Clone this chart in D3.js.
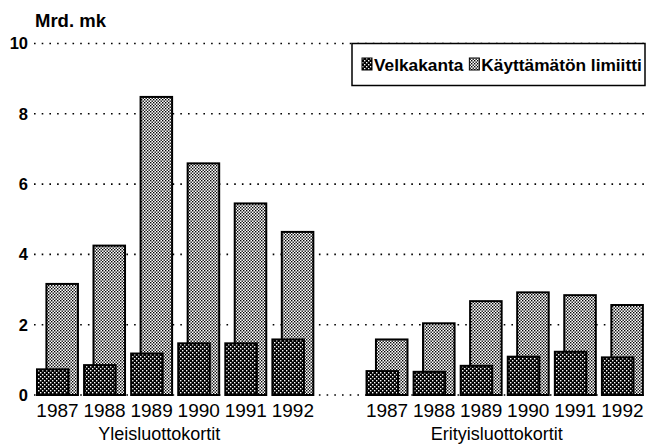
<!DOCTYPE html>
<html>
<head>
<meta charset="utf-8">
<script src="https://cdn.jsdelivr.net/npm/d3@7"></script>
<style>
  body { margin: 0; background: #fff; }
  text { font-family: "Liberation Sans", Arial, sans-serif; fill: #000; }
</style>
</head>
<body>
<div id="chart"></div>
<script>
// Luottokorttien velkakanta ja käyttämätön limiitti, Mrd. mk //
const width = 646;
const height = 444;

const years = ["1987", "1988", "1989", "1990", "1991", "1992"];
const groups = ["Yleisluottokortit", "Erityisluottokortit"];
const seriesNames = ["Velkakanta", "Käyttämätön limiitti"];
const yTicks = [0, 2, 4, 6, 8, 10];

// velkakanta (debt) per group
const debtYleis = [0.73, 0.85, 1.18, 1.47, 1.47, 1.58];
const debtErity = [0.68, 0.66, 0.83, 1.09, 1.23, 1.07];
// käyttämätön limiitti (unused limit) per group
const limitYleis = [3.16, 4.25, 8.48, 6.59, 5.45, 4.64];
const limitErity = [1.58, 2.04, 2.67, 2.92, 2.84, 2.56];

const rows = [];
years.forEach((y, i) => rows.push({ group: 0, year: y, key: "a" + y, debt: debtYleis[i], limit: limitYleis[i] }));
years.forEach((y, i) => rows.push({ group: 1, year: y, key: "b" + y, debt: debtErity[i], limit: limitErity[i] }));

// 13 slots: 6 years, one empty slot, 6 years
const slotKeys = years.map(y => "a" + y).concat(["gap"], years.map(y => "b" + y));

const svg = d3.select("#chart")
  .append("svg")
  .attr("width", width)
  .attr("height", height);

const x = d3.scaleBand()
  .domain(slotKeys)
  .range([37, 649])
  .padding(0);

const y = d3.scaleLinear()
  .domain([0, 10])
  .range([395, 43.5]);

const step = x.step();
const barW = step * 0.67;
const barOff = step * 0.2;

// patterns
const defs = svg.append("defs");
const darkPat = defs.append("pattern")
  .attr("id", "darkPat")
  .attr("patternUnits", "userSpaceOnUse")
  .attr("width", 4).attr("height", 4);
darkPat.append("rect").attr("width", 4).attr("height", 4).attr("fill", "#000");
darkPat.append("rect").attr("x", 0).attr("y", 0).attr("width", 1.4).attr("height", 1.4).attr("fill", "#fff");
darkPat.append("rect").attr("x", 2).attr("y", 2).attr("width", 1.4).attr("height", 1.4).attr("fill", "#fff");

const lightPat = defs.append("pattern")
  .attr("id", "lightPat")
  .attr("patternUnits", "userSpaceOnUse")
  .attr("width", 3).attr("height", 3);
lightPat.append("rect").attr("width", 3).attr("height", 3).attr("fill", "#fff");
lightPat.append("rect").attr("x", 0).attr("y", 0).attr("width", 1.4).attr("height", 1.4).attr("fill", "#000");
lightPat.append("rect").attr("x", 1.5).attr("y", 1.5).attr("width", 1.4).attr("height", 1.4).attr("fill", "#000");

// dotted gridlines
svg.append("g")
  .selectAll("line")
  .data(yTicks)
  .join("line")
  .attr("x1", 34)
  .attr("x2", width)
  .attr("y1", d => y(d))
  .attr("y2", d => y(d))
  .attr("stroke", "#000")
  .attr("stroke-width", 1.6)
  .attr("stroke-dasharray", "1.6,6.1");

// y tick labels
svg.append("g")
  .selectAll("text")
  .data(yTicks)
  .join("text")
  .attr("x", 28)
  .attr("y", d => y(d))
  .attr("dy", "0.36em")
  .attr("text-anchor", "end")
  .style("font-size", "16.5px")
  .style("font-weight", "bold")
  .text(d => d);

svg.append("text")
  .attr("x", 35)
  .attr("y", 26.5)
  .style("font-size", "18.5px")
  .style("font-weight", "bold")
  .text("Mrd. mk");

// bars: unused limit behind, debt in front
const bars = svg.append("g");
bars.selectAll(".limit")
  .data(rows)
  .join("rect")
  .attr("class", "limit")
  .attr("x", d => x(d.key) + barOff)
  .attr("y", d => y(d.limit))
  .attr("width", barW)
  .attr("height", d => y(0) - y(d.limit))
  .attr("fill", "url(#lightPat)")
  .attr("stroke", "#000")
  .attr("stroke-width", 2);

bars.selectAll(".debt")
  .data(rows)
  .join("rect")
  .attr("class", "debt")
  .attr("x", d => x(d.key))
  .attr("y", d => y(d.debt))
  .attr("width", barW)
  .attr("height", d => y(0) - y(d.debt))
  .attr("fill", "url(#darkPat)")
  .attr("stroke", "#000")
  .attr("stroke-width", 2);

// year labels
svg.append("g")
  .selectAll("text")
  .data(rows)
  .join("text")
  .attr("x", d => x(d.key) + (barOff + barW) / 2)
  .attr("y", 416.5)
  .attr("text-anchor", "middle")
  .style("font-size", "19px")
  .text(d => d.year);

// group labels
const groupCenter = g => {
  const ks = rows.filter(d => d.group === g).map(d => d.key);
  return (x(ks[0]) + x(ks[ks.length - 1]) + barOff + barW) / 2;
};
svg.append("g")
  .selectAll("text")
  .data(groups)
  .join("text")
  .attr("x", (d, i) => groupCenter(i) - (i === 0 ? 16 : 8))
  .attr("y", 440)
  .attr("text-anchor", "middle")
  .style("font-size", "18px")
  .text(d => d);

// legend
const legend = svg.append("g");
legend.append("rect")
  .attr("x", 352)
  .attr("y", 43.5)
  .attr("width", 293)
  .attr("height", 42)
  .attr("fill", "#fff")
  .attr("stroke", "#000")
  .attr("stroke-width", 1.5);

let lx = 362;
seriesNames.forEach((name, i) => {
  legend.append("rect")
    .attr("x", lx)
    .attr("y", 58)
    .attr("width", 10)
    .attr("height", 12)
    .attr("fill", i === 0 ? "url(#darkPat)" : "url(#lightPat)")
    .attr("stroke", "#000")
    .attr("stroke-width", 1);
  const t = legend.append("text")
    .attr("x", lx + 12)
    .attr("y", 70.5)
    .style("font-size", "17.3px")
    .style("font-weight", "bold")
    .text(name);
  lx += 12 + t.node().getComputedTextLength() + 6;
});
</script>
</body>
</html>
